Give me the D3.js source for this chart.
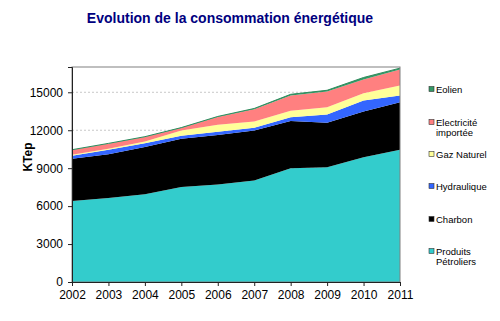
<!DOCTYPE html>
<html><head><meta charset="utf-8">
<script src="https://cdn.jsdelivr.net/npm/d3@7"></script>
<style>body{margin:0;background:#fff}svg{display:block}</style>
</head><body><svg id="c" width="500" height="321"></svg>
<script>
const years = [2002,2003,2004,2005,2006,2007,2008,2009,2010,2011];
const produitsPetroliers = [6400,6640,6940,7520,7700,8020,9000,9080,9870,10450];
const charbon = [3350,3470,3730,3810,3920,3960,3730,3520,3620,3760];
const hydraulique = [230,340,310,240,260,220,290,650,870,530];
const gazNaturel = [80,80,130,400,560,500,530,560,560,790];
const electriciteImportee = [370,400,350,210,610,950,1190,1250,1090,1270];
const eolien = [30,30,30,30,40,70,100,100,160,110];
const yTicks = [0,3000,6000,9000,12000,15000];

const seriesDefs = [
  {key:"pp", label:["Produits","Pétroliers"], values:produitsPetroliers, color:"#33CCCC"},
  {key:"ch", label:["Charbon"], values:charbon, color:"#000000"},
  {key:"hy", label:["Hydraulique"], values:hydraulique, color:"#3366FF"},
  {key:"gz", label:["Gaz Naturel"], values:gazNaturel, color:"#FFFF99"},
  {key:"el", label:["Electricité","importée"], values:electriciteImportee, color:"#FF8080"},
  {key:"eo", label:["Eolien"], values:eolien, color:"#339966"}
];
const table = years.map((y,i)=>{const o={year:y}; seriesDefs.forEach(s=>o[s.key]=s.values[i]); return o;});
const stack = d3.stack().keys(seriesDefs.map(s=>s.key))(table);

const svg = d3.select("#c");
const L=72,R=400,T=67,B=282;
const x = d3.scaleLinear().domain([2002,2011]).range([L,R]);
const y = d3.scaleLinear().domain([0,17000]).range([B,T]);

svg.append("g").selectAll("line").data(yTicks.filter(t=>t>0)).join("line")
  .attr("x1",L).attr("x2",R).attr("y1",d=>y(d)).attr("y2",d=>y(d))
  .attr("stroke","#c8c8c8").attr("stroke-width",1).attr("stroke-dasharray","2,2");

const area = d3.area().x(d=>x(d.data.year)).y0(d=>y(d[0])).y1(d=>y(d[1]));
svg.append("g").selectAll("path").data(stack).join("path")
  .attr("d",area).attr("fill",(d,i)=>seriesDefs[i].color);
svg.append("path").datum(stack[stack.length-1])
  .attr("d",d3.line().x(d=>x(d.data.year)).y(d=>y(d[1])))
  .attr("fill","none").attr("stroke","#2f8a5c").attr("stroke-width",1);

svg.append("rect").attr("x",L).attr("y",T).attr("width",R-L).attr("height",B-T)
  .attr("fill","none").attr("stroke","#808080").attr("stroke-width",1);

const yAxis = d3.axisLeft(y).tickValues(yTicks).tickSize(4).tickPadding(5).tickFormat(d3.format("d"));
const gy = svg.append("g").attr("transform",`translate(${L},0)`).call(yAxis);
gy.select(".domain").attr("stroke","#222");
gy.selectAll("line").attr("stroke","#222");
gy.selectAll("text").attr("font-family","Liberation Sans, Arial, sans-serif").attr("font-size","12px").attr("fill","#000");

const xAxis = d3.axisBottom(x).tickValues(years).tickSize(4).tickPadding(4).tickFormat(d3.format("d"));
const gx = svg.append("g").attr("transform",`translate(0,${B})`).call(xAxis);
gx.select(".domain").attr("stroke","#222");
gx.selectAll("line").attr("stroke","#222");
gx.selectAll("text").attr("font-family","Liberation Sans, Arial, sans-serif").attr("font-size","12px").attr("fill","#000");

svg.append("text").attr("x",230).attr("y",23).attr("text-anchor","middle")
  .attr("font-family","Liberation Sans, Arial, sans-serif").attr("font-weight","bold")
  .attr("font-size","14px").attr("fill","#000080").text("Evolution de la consommation énergétique");

svg.append("text").attr("transform","translate(32,157) rotate(-90)").attr("text-anchor","middle")
  .attr("font-family","Liberation Sans, Arial, sans-serif").attr("font-weight","bold")
  .attr("font-size","12px").attr("fill","#000").text("KTep");

const legendY = {eo:89, el:122, gz:154, hy:186, ch:219, pp:251};
const lg = svg.append("g");
seriesDefs.forEach(s=>{
  const yy = legendY[s.key];
  lg.append("rect").attr("x",429).attr("y",yy-2.5).attr("width",5).attr("height",5)
    .attr("fill",s.color).attr("stroke","#333").attr("stroke-width",0.6);
  s.label.forEach((t,j)=>{
    lg.append("text").attr("x",436).attr("y",yy+3.5+j*10.5)
      .attr("font-family","Liberation Sans, Arial, sans-serif").attr("font-size","9.5px").attr("fill","#000").text(t);
  });
});
</script></body></html>
